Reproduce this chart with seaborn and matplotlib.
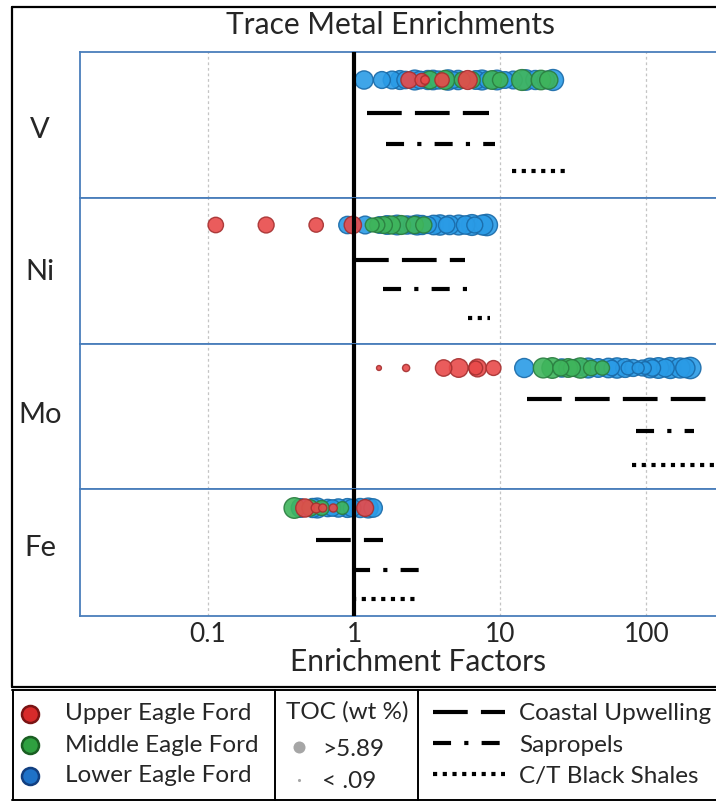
import numpy as np
import pandas as pd
import matplotlib
matplotlib.use("Agg")
import matplotlib.pyplot as plt
import seaborn as sns

# Enrichment factors (EF) and TOC (wt %), per metal / unit
v_lower_ef = [1.17, 1.55, 1.82, 2.06, 2.25, 2.6, 2.83, 3.2, 3.47, 3.8, 4.4, 4.8,
              5.15, 5.7, 6.8, 7.5, 8.2, 9.5, 10.8, 12.3, 15.0, 17.4, 20.5, 23.0]
v_lower_toc = [4.2, 3.6, 4.0, 4.5, 3.8, 5.0, 3.9, 4.6, 4.8, 4.1, 5.2, 3.4,
               4.7, 2.8, 4.4, 5.0, 3.7, 4.9, 3.5, 4.0, 5.3, 4.6, 3.9, 5.6]
v_middle_ef = [3.3, 4.2, 5.5, 6.4, 8.8, 10.0, 14.1, 19.0, 21.5]
v_middle_toc = [4.0, 4.6, 3.2, 3.5, 4.4, 3.0, 5.5, 4.8, 4.2]
v_upper_ef = [2.38, 2.9, 3.06, 4.0, 6.0]
v_upper_toc = [3.4, 2.2, 0.9, 2.6, 4.5]

ni_lower_ef = [0.9, 1.19, 1.5, 1.68, 1.97, 2.3, 2.5, 2.7, 2.92, 3.2, 3.5, 3.87,
               4.3, 4.5, 5.2, 5.8, 6.4, 6.7, 7.6, 8.1]
ni_lower_toc = [3.8, 4.0, 3.5, 4.4, 4.9, 4.2, 3.9, 5.0, 4.6, 3.6, 4.8, 5.2,
                3.4, 4.7, 5.0, 4.3, 5.5, 3.2, 5.1, 5.8]
ni_middle_ef = [1.33, 1.44, 1.6, 1.8, 2.1, 2.6, 3.0]
ni_middle_toc = [2.4, 2.9, 3.6, 4.1, 4.5, 3.8, 3.3]
ni_upper_ef = [0.113, 0.25, 0.55, 0.98]
ni_upper_toc = [3.0, 3.2, 2.6, 3.8]

mo_lower_ef = [14.6, 26.4, 33.0, 40.0, 46.9, 55.0, 58.0, 63.0, 71.7, 75.0, 81.5,
               88.0, 94.0, 98.0, 106.0, 110.0, 121.0, 135.0, 146.0, 170.0, 185.0, 200.0]
mo_lower_toc = [4.6, 4.2, 3.8, 5.0, 4.4, 4.8, 3.0, 5.2, 4.5, 2.4, 3.6,
                1.8, 3.2, 2.0, 4.9, 3.4, 5.4, 4.0, 5.6, 5.1, 4.7, 5.8]
mo_middle_ef = [19.7, 22.7, 26.0, 29.2, 31.0, 35.4, 42.0, 50.0]
mo_middle_toc = [5.0, 5.4, 3.2, 4.4, 3.6, 5.2, 3.0, 2.6]
mo_upper_ef = [1.48, 2.27, 4.1, 5.2, 6.8, 7.0, 9.0]
mo_upper_toc = [0.25, 0.6, 3.4, 4.4, 2.4, 4.0, 2.8]

fe_lower_ef = [0.43, 0.52, 0.56, 0.66, 0.71, 0.78, 0.9, 0.97, 1.1, 1.25, 1.35]
fe_lower_toc = [4.4, 4.6, 5.0, 3.8, 3.4, 4.2, 4.5, 3.9, 4.6, 5.0, 4.3]
fe_middle_ef = [0.39, 0.50, 0.60, 0.83]
fe_middle_toc = [5.4, 3.4, 2.8, 2.0]
fe_upper_ef = [0.46, 0.55, 0.61, 0.72, 1.19]
fe_upper_toc = [4.2, 1.2, 0.8, 0.8, 3.6]

# reference ranges (min, max EF) for V, Ni, Mo, Fe
metals = ["V", "Ni", "Mo", "Fe"]
upwelling_lo = [1.23, 1.0, 15.3, 0.55]
upwelling_hi = [8.4, 5.75, 261, 1.58]
sapropel_lo = [1.66, 1.58, 85, 0.97]
sapropel_hi = [9.2, 5.95, 212, 2.83]
blackshale_lo = [12.1, 6.0, 80, 0.97]
blackshale_hi = [30.2, 8.5, 330, 2.83]

tick_vals = [0.1, 1, 10, 100]
tick_labels = ["0.1", "1", "10", "100"]

# build long table
raw = {
    "V": [(v_lower_ef, v_lower_toc), (v_middle_ef, v_middle_toc), (v_upper_ef, v_upper_toc)],
    "Ni": [(ni_lower_ef, ni_lower_toc), (ni_middle_ef, ni_middle_toc), (ni_upper_ef, ni_upper_toc)],
    "Mo": [(mo_lower_ef, mo_lower_toc), (mo_middle_ef, mo_middle_toc), (mo_upper_ef, mo_upper_toc)],
    "Fe": [(fe_lower_ef, fe_lower_toc), (fe_middle_ef, fe_middle_toc), (fe_upper_ef, fe_upper_toc)],
}
units = ["Lower Eagle Ford", "Middle Eagle Ford", "Upper Eagle Ford"]
draw_rank = {"Lower Eagle Ford": 0, "Middle Eagle Ford": 1, "Upper Eagle Ford": 2}
rows = []
for m, groups in raw.items():
    for u, (ef, toc) in zip(units, groups):
        for e, t in zip(ef, toc):
            rows.append({"metal": m, "unit": u, "ef": e, "toc": t, "rank": draw_rank[u]})
df = pd.DataFrame(rows)

fill = {"Upper Eagle Ford": "#e84a4a", "Middle Eagle Ford": "#3fb55c", "Lower Eagle Ford": "#2a9be6"}
edge = {"Upper Eagle Ford": "#a53030", "Middle Eagle Ford": "#2b7d40", "Lower Eagle Ford": "#1a6aa8"}

sns.set_style("white")
plt.rcParams["font.family"] = ["Lato", "DejaVu Sans"]
plt.rcParams["lines.scale_dashes"] = False

W, H = 716, 802
fig = plt.figure(figsize=(W / 100, H / 100), dpi=100)

def fy(py):
    return 1 - py / H

# panel extents in pixels (top, bottom) and row offsets from panel top
panels = {"V": (52, 198), "Ni": (198, 344), "Mo": (344, 489), "Fe": (489, 616)}
row_off = {"V": [28, 61, 92, 119], "Ni": [27, 62, 91, 120],
           "Mo": [24, 55, 87, 121], "Fe": [19, 51, 81, 110]}
label_y = {"V": 130, "Ni": 272, "Mo": 415, "Fe": 548}

styles = [(0, (25, 9.5)), (0, (13, 9.5, 3, 9.5)), (0, (3, 4))]
spine_col = "#4a7ebb"

for i, m in enumerate(metals):
    top, bot = panels[m]
    ax = fig.add_axes([80 / W, fy(bot), 1 - 80 / W, (bot - top) / H])
    offs = row_off[m]
    sub = df[df.metal == m].sort_values(["rank", "toc"], ascending=[True, False]).copy()
    sub["y"] = offs[0]
    sns.scatterplot(data=sub, x="ef", y="y", hue="unit", palette=fill,
                    size="toc", sizes=(6, 240), size_norm=(0.09, 5.89),
                    alpha=0.9, linewidth=1.0, legend=False, ax=ax, zorder=3)
    ax.collections[-1].set_edgecolor([edge[u] for u in sub.unit])

    refs = [(upwelling_lo[i], upwelling_hi[i]),
            (sapropel_lo[i], sapropel_hi[i]),
            (blackshale_lo[i], blackshale_hi[i])]
    for (lo, hi), ls, yy in zip(refs, styles, offs[1:]):
        ax.plot([lo, hi], [yy, yy], color="black", lw=3, linestyle=ls,
                dash_capstyle="butt", solid_capstyle="butt", zorder=2)

    ax.axvline(1, color="black", lw=3, zorder=4)
    ax.set_xscale("log")
    ax.set_xlim(0.0133, 300)
    ax.set_ylim(bot - top, 0)
    ax.set_xticks(tick_vals)
    ax.minorticks_off()
    ax.grid(axis="x", color="#c4c4c4", linestyle=(0, (2, 2)), lw=0.9)
    ax.set_yticks([])
    ax.set_xlabel("")
    ax.set_ylabel("")
    if m == "Fe":
        ax.set_xticklabels(tick_labels, fontsize=19)
    else:
        ax.set_xticklabels([])
    ax.tick_params(axis="x", length=0, pad=4)
    for s in ["left", "top", "bottom"]:
        ax.spines[s].set_color(spine_col)
        ax.spines[s].set_linewidth(1.3)
    ax.spines["right"].set_visible(False)
    fig.text(40 / W, fy(label_y[m]), m, ha="center", va="center", fontsize=21)

fig.text(390 / W, fy(25), "Trace Metal Enrichments", ha="center", va="center", fontsize=21.5)
fig.text(418 / W, fy(662), "Enrichment Factors", ha="center", va="center", fontsize=21.5)

# overlay in pixel coordinates for frame and legend
ov = fig.add_axes([0, 0, 1, 1], zorder=-1)
ov.set_xlim(0, W)
ov.set_ylim(H, 0)
ov.axis("off")
ov.patch.set_alpha(0)
ov.plot([12, 716], [7, 7], color="black", lw=1.6)
ov.plot([12, 12], [7, 687], color="black", lw=1.6)
ov.plot([12, 716], [687, 687], color="black", lw=1.6)

ov.plot([12, 716], [690, 690], color="black", lw=1.4)
ov.plot([12, 716], [800, 800], color="black", lw=1.4)
for xv in [13, 275, 418]:
    ov.plot([xv, xv], [690, 800], color="black", lw=1.4)

leg_y = [714, 745, 776]
leg_units = ["Upper Eagle Ford", "Middle Eagle Ford", "Lower Eagle Ford"]
leg_fill = ["#d72b2b", "#2fa040", "#1f72c8"]
leg_edge = ["#7a1414", "#1a5e22", "#123f80"]
for yy, name, fc, ec in zip(leg_y, leg_units, leg_fill, leg_edge):
    ov.scatter([30], [yy], s=150, color=fc, edgecolor=ec, linewidth=1.8, zorder=5)
    ov.text(65, yy, name, ha="left", va="center", fontsize=17.5)

ov.text(286, 712, "TOC (wt %)", ha="left", va="center", fontsize=17.5)
ov.scatter([299], [747], s=75, color="#a6a6a6", linewidth=0)
ov.text(322, 750, ">5.89", ha="left", va="center", fontsize=17.5)
ov.scatter([299], [780], s=5, color="#a6a6a6", linewidth=0)
ov.text(322, 782, "< .09", ha="left", va="center", fontsize=17.5)

ref_names = ["Coastal Upwelling", "Sapropels", "C/T Black Shales"]
for yy, name, ls in zip(leg_y, ref_names, styles):
    ov.plot([433, 505], [yy - 2, yy - 2], color="black", lw=3, linestyle=ls,
            dash_capstyle="butt", solid_capstyle="butt")
    ov.text(519, yy, name, ha="left", va="center", fontsize=17.5)

fig.savefig("out.png", dpi=100)
